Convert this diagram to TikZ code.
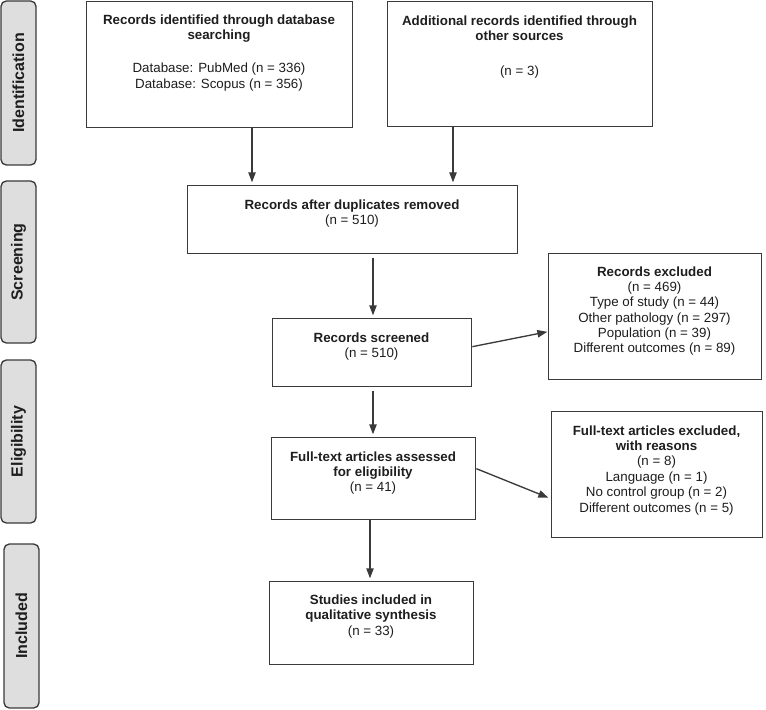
\documentclass[tikz,border=0pt]{standalone}
\usepackage{fontspec}
\setmainfont{Liberation Sans}
\usetikzlibrary{arrows.meta}
\definecolor{linecol}{HTML}{3A3A3A}
\definecolor{phasefill}{HTML}{DEDEDE}
\definecolor{txtcol}{HTML}{1E1E1E}
\begin{document}
\begin{tikzpicture}[x=0.75pt,y=-0.75pt,
  box/.style={draw=linecol, line width=1pt, fill=white, rectangle, inner sep=0pt, anchor=north west},
  phase/.style={draw=linecol, line width=1pt, fill=phasefill, rectangle, rounded corners=4pt, inner sep=0pt, rotate=90,
     font=\fontsize{12}{14}\selectfont\bfseries, text=txtcol},
  txt/.style={align=center, inner sep=0pt, anchor=north, text=txtcol, font=\fontsize{10}{11.5}\selectfont},
  arr/.style={draw=linecol, line width=1pt, shorten >=2pt, -{Triangle[length=7.5pt,width=5.5pt]}}]
\useasboundingbox (0,0) rectangle (766,709);
% phase labels
\node[phase, minimum width=123pt, minimum height=26.25pt] (pI) at (18.5,83) {Identification};
\node[phase, minimum width=121.5pt, minimum height=26.25pt] (pS) at (18.5,262) {Screening};
\node[phase, minimum width=122.25pt, minimum height=26.25pt] (pE) at (18.5,441.5) {Eligibility};
\node[phase, minimum width=123pt, minimum height=26.25pt] (pN) at (21.5,626) {Included};
% boxes
\node[box, minimum width=199.5pt, minimum height=94.5pt] (A) at (86,1) {};
\node[box, minimum width=198.75pt, minimum height=93.75pt] (B) at (387,1) {};
\node[box, minimum width=247.5pt, minimum height=51pt] (C) at (187,185) {};
\node[box, minimum width=149.25pt, minimum height=51pt] (D) at (272,318) {};
\node[box, minimum width=159.75pt, minimum height=94.5pt] (E) at (548,253) {};
\node[box, minimum width=153pt, minimum height=61.5pt] (F) at (271,437) {};
\node[box, minimum width=158.25pt, minimum height=94.5pt] (G) at (551,411) {};
\node[box, minimum width=153pt, minimum height=62.25pt] (H) at (269,581) {};
% texts
\node[txt] (tA) at (219,14.4) {\textbf{Records identified through database}\\\textbf{searching}\\[13.5pt]Database: PubMed (n = 336)\\Database: Scopus (n = 356)};
\node[txt] (tB) at (519.5,15.4) {\textbf{Additional records identified through}\\\textbf{other sources}\\[15pt](n = 3)};
\node[txt] (tC) at (352,199.4) {\textbf{Records after duplicates removed}\\(n = 510)};
\node[txt] (tD) at (371.5,332.4) {\textbf{Records screened}\\(n = 510)};
\node[txt] (tE) at (654.5,266.4) {\textbf{Records excluded}\\(n = 469)\\Type of study (n = 44)\\Other pathology (n = 297)\\Population (n = 39)\\Different outcomes (n = 89)};
\node[txt] (tF) at (373,451.4) {\textbf{Full-text articles assessed}\\\textbf{for eligibility}\\(n = 41)};
\node[txt] (tG) at (656.5,425.4) {\textbf{Full-text articles excluded,}\\\textbf{with reasons}\\(n = 8)\\Language (n = 1)\\No control group (n = 2)\\Different outcomes (n = 5)};
\node[txt] (tH) at (371,594.4) {\textbf{Studies included in}\\\textbf{qualitative synthesis}\\(n = 33)};
% connector columns
\coordinate (xa) at (252,0);
\coordinate (xb) at (453,0);
\coordinate (xc) at (373,0);
\coordinate (xd) at (370,0);
% connectors
\draw[arr] (A.south -| xa) -- (C.north -| xa);
\draw[arr] (B.south -| xb) -- (C.north -| xb);
\draw[arr, shorten <=3pt] (C.south -| xc) -- (D.north -| xc);
\draw[arr, shorten <=3pt] (D.south -| xc) -- (F.north -| xc);
\draw[arr] (F.south -| xd) -- (H.north -| xd);
\draw[arr, shorten >=0.5pt] ([yshift=4.5pt]D.east) -- ([yshift=-11.25pt]E.west);
\draw[arr, shorten >=0pt] ([yshift=7.5pt]F.east) -- ([yshift=-17.25pt,xshift=-2pt]G.west);
\end{tikzpicture}
\end{document}
